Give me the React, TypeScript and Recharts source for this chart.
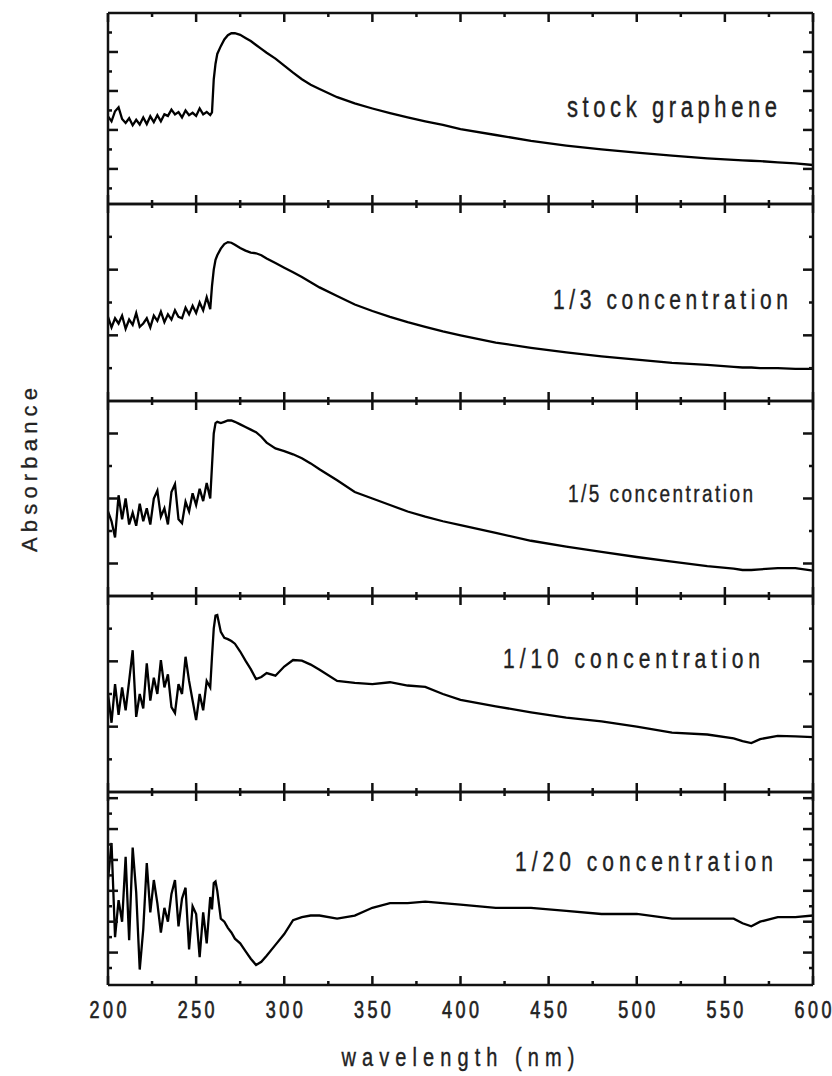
import { LineChart, Line, XAxis, YAxis } from "recharts";

// shared wavelength grid (nm)
const WAVELENGTHS = [
  200, 202, 204, 206, 208, 210, 212, 214, 216, 218, 220, 222, 224, 226, 228,
  230, 232, 234, 236, 238, 240, 242, 244, 246, 248, 250, 252, 254, 256, 258,
  259, 260, 261, 262, 264, 266, 268, 270, 272, 275, 278, 281, 284, 287, 290,
  295, 300, 305, 310, 315, 320, 330, 340, 350, 360, 370, 380, 390, 400,
  420, 440, 460, 480, 500, 520, 540, 555, 560, 565, 570, 580, 590, 600,
];

// absorbance (a.u.), one value per wavelength
const STOCK = [
  0.235, 0.222, 0.248, 0.258, 0.228, 0.218, 0.23, 0.212, 0.226, 0.214,
  0.232, 0.215, 0.235, 0.22, 0.238, 0.222, 0.24, 0.236, 0.252, 0.24,
  0.246, 0.232, 0.25, 0.238, 0.244, 0.236, 0.255, 0.24, 0.246, 0.238,
  0.245, 0.33, 0.37, 0.395, 0.415, 0.432, 0.443, 0.448, 0.448,
  0.444, 0.436, 0.428, 0.418, 0.408, 0.398,
  0.383, 0.365, 0.347, 0.33, 0.316, 0.305,
  0.284, 0.268, 0.255, 0.243, 0.232, 0.222, 0.213, 0.202,
  0.187, 0.172, 0.16, 0.15, 0.142, 0.134, 0.127,
  0.123, 0.122, 0.121, 0.12, 0.117, 0.114, 0.11,
];

const THIRD = [
  0.128, 0.112, 0.126, 0.118, 0.13, 0.11, 0.124, 0.116, 0.134, 0.113,
  0.118, 0.126, 0.112, 0.13, 0.122, 0.136, 0.12, 0.132, 0.124, 0.138,
  0.128, 0.126, 0.142, 0.132, 0.145, 0.134, 0.15, 0.138, 0.158, 0.14,
  0.175, 0.2, 0.215, 0.222, 0.232, 0.239, 0.242, 0.241, 0.238,
  0.233, 0.229, 0.226, 0.225, 0.222, 0.217,
  0.21, 0.203, 0.196, 0.189, 0.181, 0.173,
  0.16, 0.147, 0.137, 0.128, 0.12, 0.113, 0.106, 0.1,
  0.089, 0.081, 0.074, 0.068, 0.063, 0.058, 0.055,
  0.052, 0.051, 0.051, 0.05, 0.05, 0.049, 0.049,
];

const FIFTH = [
  0.18, 0.165, 0.14, 0.205, 0.168, 0.2, 0.16, 0.178, 0.158, 0.192,
  0.165, 0.185, 0.16, 0.2, 0.212, 0.172, 0.185, 0.16, 0.21, 0.222,
  0.168, 0.162, 0.195, 0.18, 0.208, 0.19, 0.215, 0.196, 0.224, 0.2,
  0.25, 0.3, 0.316, 0.318, 0.316, 0.318, 0.32, 0.32, 0.318,
  0.314, 0.31, 0.306, 0.302, 0.295, 0.286,
  0.277, 0.273, 0.268, 0.262, 0.254, 0.245,
  0.228, 0.21, 0.2, 0.19, 0.18, 0.172, 0.165, 0.159,
  0.147, 0.135, 0.126, 0.118, 0.11, 0.103, 0.096,
  0.092, 0.09, 0.09, 0.091, 0.093, 0.093, 0.089,
];

const TENTH = [
  0.15, 0.106, 0.165, 0.118, 0.16, 0.125, 0.17, 0.217, 0.115, 0.15,
  0.128, 0.197, 0.14, 0.175, 0.15, 0.202, 0.16, 0.18, 0.13, 0.121,
  0.165, 0.15, 0.207, 0.17, 0.14, 0.11, 0.15, 0.125, 0.17, 0.16,
  0.207, 0.25, 0.27, 0.271, 0.245, 0.236, 0.234, 0.231, 0.227,
  0.215, 0.201, 0.188, 0.173, 0.176, 0.182,
  0.178, 0.192, 0.202, 0.201, 0.195, 0.187,
  0.17, 0.167, 0.165, 0.168, 0.163, 0.161, 0.15, 0.141,
  0.131, 0.122, 0.114, 0.108, 0.1, 0.091, 0.088,
  0.082, 0.078, 0.075, 0.081, 0.086, 0.085, 0.084,
];

const TWENTIETH = [
  0.067, 0.091, 0.03, 0.054, 0.04, 0.082, 0.028, 0.088, 0.059, 0.009,
  0.035, 0.078, 0.046, 0.067, 0.052, 0.033, 0.049, 0.04, 0.058, 0.067,
  0.037, 0.055, 0.062, 0.022, 0.05, 0.045, 0.017, 0.046, 0.026, 0.056,
  0.048, 0.065, 0.066, 0.06, 0.042, 0.04, 0.036, 0.033, 0.029,
  0.026, 0.021, 0.016, 0.012, 0.014, 0.018,
  0.025, 0.032, 0.041, 0.043, 0.044, 0.044,
  0.042, 0.044, 0.049, 0.052, 0.052, 0.053, 0.052, 0.051,
  0.049, 0.049, 0.047, 0.045, 0.045, 0.042, 0.042,
  0.042, 0.039, 0.037, 0.04, 0.043, 0.043, 0.044,
];

const X_TICKS = [
  200, 225, 250, 275, 300, 325, 350, 375, 400, 425, 450, 475, 500, 525, 550,
  575, 600,
];

const LABELS = [
  "stock graphene",
  "1/3 concentration",
  "1/5 concentration",
  "1/10 concentration",
  "1/20 concentration",
];

const SERIES = [STOCK, THIRD, FIFTH, TENTH, TWENTIETH];

// per-panel y range and ticks (no tick labels in the original)
const Y_DOMAINS: [number, number][] = [
  [0.01, 0.5],
  [0, 0.3],
  [0.05, 0.35],
  [0, 0.3],
  [-0.001, 0.124],
];
const Y_TICKS = [
  [0.05, 0.1, 0.15, 0.2, 0.25, 0.3, 0.35, 0.4, 0.45],
  [0.05, 0.1, 0.15, 0.2, 0.25],
  [0.1, 0.15, 0.2, 0.25, 0.3],
  [0.05, 0.1, 0.15, 0.2, 0.25],
  [0.01, 0.02, 0.03, 0.04, 0.05, 0.06, 0.07, 0.08, 0.09, 0.1, 0.11, 0.12],
];
const Y_MAJOR = [
  [0.1, 0.2, 0.3, 0.4],
  [0.1, 0.2],
  [0.1, 0.2, 0.3],
  [0.1, 0.2],
  [0.02, 0.04, 0.06, 0.08, 0.1, 0.12],
];

// layout
const W = 832;
const H = 1076;
const PLOT_LEFT = 108;
const PLOT_RIGHT = 813;
const PANEL_EDGES = [13, 204, 401, 596, 792, 985];
const AX = 10;
const LAST_AX = 60;
const INK = "#111";
const TEXT_INK = "#222";
const FONT = "'Liberation Sans', Arial, sans-serif";
const STRETCH = 1.3;

const LABEL_POS = [
  { x: 567, y: 117, len: 210, size: 22 },
  { x: 553, y: 309, len: 235, size: 21 },
  { x: 568, y: 502, len: 185, size: 19 },
  { x: 503, y: 668, len: 257, size: 21 },
  { x: 515, y: 871, len: 258, size: 21 },
];

function xTick(dir: number, withLabel: boolean) {
  return function XTick(props: any) {
    const { x, y, payload } = props;
    const v = payload.value as number;
    const major = v % 50 === 0;
    return (
      <g>
        <line x1={x} x2={x} y1={y} y2={y + dir * (major ? 9 : 4)} stroke={INK} strokeWidth={2.5} />
        {withLabel && major && (
          <text
            transform={`translate(${x},${y + 33}) scale(1,${STRETCH})`}
            textAnchor="middle"
            fontFamily={FONT}
            fontSize={18}
            fill={TEXT_INK}
            stroke={TEXT_INK}
            strokeWidth={0.5}
            textLength={37}
            lengthAdjust="spacing"
          >
            {v}
          </text>
        )}
      </g>
    );
  };
}

function yTick(dir: number, majors: number[]) {
  return function YTick(props: any) {
    const { x, y, payload } = props;
    const major = majors.some((m) => Math.abs(m - payload.value) < 1e-6);
    return (
      <line x1={x} x2={x + dir * (major ? 10 : 4)} y1={y} y2={y} stroke={INK} strokeWidth={2.5} />
    );
  };
}

function Panel({ index }: { index: number }) {
  const top = PANEL_EDGES[index];
  const bottom = PANEL_EDGES[index + 1];
  const isLast = index === SERIES.length - 1;
  const bottomAx = isLast ? LAST_AX : AX;
  const data = WAVELENGTHS.map((wl, i) => ({ wl, a: SERIES[index][i] }));
  const axisLine = { stroke: INK, strokeWidth: 2.5 };

  return (
    <div style={{ position: "absolute", left: 0, top: top - AX }}>
      <LineChart
        width={W}
        height={bottom - top + AX + bottomAx}
        data={data}
        margin={{ top: 0, right: W - PLOT_RIGHT - AX, bottom: 0, left: PLOT_LEFT - AX }}
      >
        <XAxis
          dataKey="wl"
          type="number"
          domain={[200, 600]}
          ticks={X_TICKS}
          interval={0}
          height={bottomAx}
          tickSize={0}
          tickMargin={0}
          tickLine={false}
          axisLine={axisLine}
          tick={xTick(-1, isLast)}
          allowDataOverflow
        />
        <XAxis
          xAxisId="top"
          orientation="top"
          dataKey="wl"
          type="number"
          domain={[200, 600]}
          ticks={X_TICKS}
          interval={0}
          height={AX}
          tickSize={0}
          tickMargin={0}
          tickLine={false}
          axisLine={axisLine}
          tick={xTick(1, false)}
          allowDataOverflow
        />
        <YAxis
          type="number"
          domain={Y_DOMAINS[index]}
          ticks={Y_TICKS[index]}
          interval={0}
          width={AX}
          tickSize={0}
          tickMargin={0}
          tickLine={false}
          axisLine={axisLine}
          tick={yTick(1, Y_MAJOR[index])}
          allowDataOverflow
        />
        <YAxis
          yAxisId="right"
          orientation="right"
          type="number"
          domain={Y_DOMAINS[index]}
          ticks={Y_TICKS[index]}
          interval={0}
          width={AX}
          tickSize={0}
          tickMargin={0}
          tickLine={false}
          axisLine={axisLine}
          tick={yTick(-1, Y_MAJOR[index])}
          allowDataOverflow
        />
        <Line
          type="linear"
          dataKey="a"
          stroke="#000"
          strokeWidth={2.3}
          dot={false}
          activeDot={false}
          isAnimationActive={false}
        />
      </LineChart>
    </div>
  );
}

export default function App() {
  return (
    <div style={{ position: "absolute", left: 0, top: 0, width: W, height: H, background: "#fff" }}>
      {SERIES.map((_, i) => (
        <Panel key={i} index={i} />
      ))}
      <svg
        width={W}
        height={H}
        style={{ position: "absolute", left: 0, top: 0, pointerEvents: "none" }}
      >
        {LABELS.map((text, i) => {
          const p = LABEL_POS[i];
          return (
            <text
              key={text}
              transform={`translate(${p.x},${p.y}) scale(1,${STRETCH})`}
              fontFamily={FONT}
              fontSize={p.size}
              fill={TEXT_INK}
              stroke={TEXT_INK}
              strokeWidth={0.3}
              textLength={p.len}
              lengthAdjust="spacing"
            >
              {text}
            </text>
          );
        })}
        <text
          transform={`translate(458,1066) scale(1,${STRETCH})`}
          textAnchor="middle"
          fontFamily={FONT}
          fontSize={20}
          fill={TEXT_INK}
          stroke={TEXT_INK}
          strokeWidth={0.3}
          textLength={233}
          lengthAdjust="spacing"
        >
          wavelength (nm)
        </text>
        <text
          transform="translate(37,470) rotate(-90)"
          textAnchor="middle"
          fontFamily={FONT}
          fontSize={22}
          fill={TEXT_INK}
          stroke={TEXT_INK}
          strokeWidth={0.3}
          textLength={164}
          lengthAdjust="spacing"
        >
          Absorbance
        </text>
      </svg>
    </div>
  );
}
